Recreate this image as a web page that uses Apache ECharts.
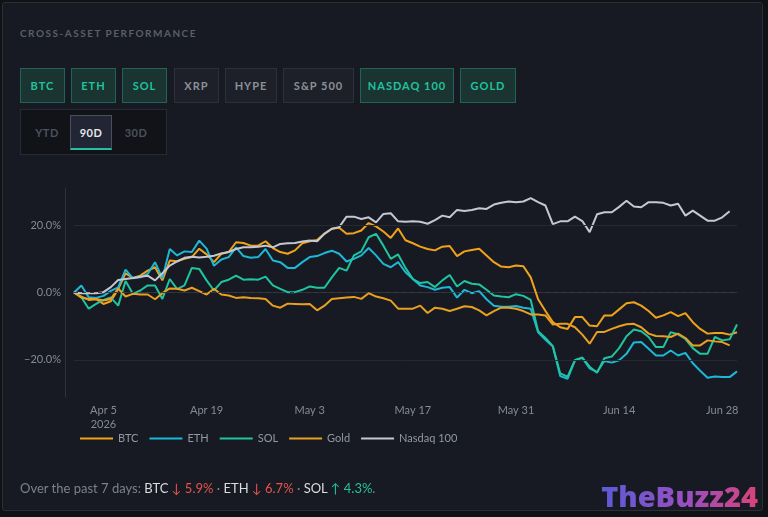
<!DOCTYPE html>
<html>
<head>
<meta charset="utf-8">
<script src="https://cdn.jsdelivr.net/npm/echarts@6/dist/echarts.min.js"></script>
<style>
html,body{margin:0;padding:0;background:#101216;width:768px;height:517px;overflow:hidden;font-family:Lato,"Noto Sans",sans-serif}
#card{position:absolute;left:2px;top:2px;width:759px;height:507px;background:#171a22;border:1px solid #2a2e37;border-radius:3px}
#main{position:absolute;left:0;top:0;width:768px;height:517px}
.title{position:absolute;left:20px;top:27px;font-size:10px;font-weight:700;letter-spacing:1.5px;color:#5a5f6a}
.btn{position:absolute;top:68px;height:35px;box-sizing:border-box;border:1px solid #2c3039;background:#1d2028;color:#8b909a;font-size:11px;font-weight:700;letter-spacing:1px;display:flex;align-items:center;justify-content:center}
.btn.on{background:#1a3432;border-color:#1f6457;color:#22c29e}
#range{position:absolute;left:20px;top:109px;width:147px;height:46px;box-sizing:border-box;background:#111318;border:1px solid #262a32}
.rb{position:absolute;top:5px;height:35px;width:42px;box-sizing:border-box;display:flex;align-items:center;justify-content:center;font-size:11px;font-weight:700;letter-spacing:.5px;color:#4c515b}
.rb.on{background:#222533;border:1px solid #4a4f5c;border-bottom:2px solid #22c29e;color:#e6e8ec}
#foot{position:absolute;left:20px;top:480px;font-size:13px;color:#7c818b}
#foot b{font-weight:400;color:#d9dce1}
#foot .dn{color:#e5534b}
#foot .up{color:#22c29e}
#mark{position:absolute;right:10px;top:476px;font-size:29px;font-weight:900;letter-spacing:0;background:linear-gradient(90deg,#5b5bd6,#9a4fc0 55%,#d8437a);-webkit-background-clip:text;background-clip:text;color:transparent;font-family:"Noto Sans",Lato,sans-serif}
</style>
</head>
<body>
<div id="card"></div>
<div class="title">CROSS-ASSET PERFORMANCE</div>
<div class="btn on" style="left:20px;width:45px">BTC</div>
<div class="btn on" style="left:71px;width:45px">ETH</div>
<div class="btn on" style="left:122px;width:45px">SOL</div>
<div class="btn" style="left:174px;width:45px">XRP</div>
<div class="btn" style="left:225px;width:52px">HYPE</div>
<div class="btn" style="left:283px;width:71px">S&amp;P 500</div>
<div class="btn on" style="left:360px;width:94px">NASDAQ 100</div>
<div class="btn on" style="left:460px;width:56px">GOLD</div>
<div id="range">
  <div class="rb" style="left:5px">YTD</div>
  <div class="rb on" style="left:49px">90D</div>
  <div class="rb" style="left:94px">30D</div>
</div>
<div id="main"></div>
<div id="foot">Over the past 7 days: <b>BTC</b> <span class="dn">&#8595; 5.9%</span> · <b>ETH</b> <span class="dn">&#8595; 6.7%</span> · <b>SOL</b> <span class="up">&#8593; 4.3%</span>.</div>
<div id="mark">TheBuzz24</div>
<script>
var dates = [
  'Apr 1','Apr 2','Apr 3','Apr 4','Apr 5','Apr 6','Apr 7','Apr 8','Apr 9','Apr 10',
  'Apr 11','Apr 12','Apr 13','Apr 14','Apr 15','Apr 16','Apr 17','Apr 18','Apr 19','Apr 20',
  'Apr 21','Apr 22','Apr 23','Apr 24','Apr 25','Apr 26','Apr 27','Apr 28','Apr 29','Apr 30',
  'May 1','May 2','May 3','May 4','May 5','May 6','May 7','May 8','May 9','May 10',
  'May 11','May 12','May 13','May 14','May 15','May 16','May 17','May 18','May 19','May 20',
  'May 21','May 22','May 23','May 24','May 25','May 26','May 27','May 28','May 29','May 30','May 31',
  'Jun 1','Jun 2','Jun 3','Jun 4','Jun 5','Jun 6','Jun 7','Jun 8','Jun 9','Jun 10',
  'Jun 11','Jun 12','Jun 13','Jun 14','Jun 15','Jun 16','Jun 17','Jun 18','Jun 19','Jun 20',
  'Jun 21','Jun 22','Jun 23','Jun 24','Jun 25','Jun 26','Jun 27','Jun 28','Jun 29','Jun 30'
];
var yTicks = [-20, 0, 20];

var btc = [0,-1.2,-2.2,-2.0,-3.4,-2.6,1.0,5.7,4.3,5.0,
  6.5,7.5,3.6,9.5,9.3,10.0,10.5,13.0,11.3,9.0,
  11.5,12.0,14.9,14.7,13.9,13.9,15.2,13.2,12.0,11.5,
  12.5,14.6,15.2,15.6,17.5,18.9,19.2,17.4,17.6,18.4,
  20.6,19.6,18.1,16.2,19.0,15.5,14.6,13.6,12.9,12.5,
  13.6,13.8,10.8,12.2,12.6,13.0,11.0,9.0,7.7,7.5,
  8.0,7.8,4.5,-2.0,-5.5,-8.8,-10.3,-10.8,-7.3,-7.3,
  -9.8,-10.0,-6.8,-6.8,-5.0,-3.2,-2.9,-3.9,-5.5,-7.5,
  -6.8,-5.8,-7.0,-6.1,-8.8,-10.8,-12.2,-12.0,-12.0,-12.5,-11.8];

var eth = [0,2.1,-1.4,-1.6,-1.0,0.5,1.5,6.8,4.2,4.5,
  5.5,9.0,4.2,12.9,11.0,12.2,12.0,15.4,13.0,7.9,
  9.8,10.5,13.4,10.8,10.3,10.5,12.9,9.5,9.0,7.3,
  7.3,9.0,10.5,10.8,11.7,12.4,11.5,9.2,10.0,11.0,
  13.2,11.0,8.5,7.5,9.0,6.0,4.0,2.1,1.6,0.8,
  1.4,1.6,-1.5,0.8,-0.2,0.4,-2.0,-3.9,-4.2,-4.2,
  -4.0,-4.5,-4.8,-11.8,-14.0,-16.0,-24.8,-25.6,-20.1,-19.4,
  -22.5,-23.6,-20.3,-20.8,-20.1,-18.2,-14.8,-14.7,-16.7,-18.7,
  -18.7,-17.2,-18.7,-17.9,-21.0,-23.2,-25.3,-24.9,-25.1,-25.1,-23.4];

var sol = [0,-1.4,-4.8,-3.4,-2.2,-1.5,-3.9,3.4,-0.4,0.6,
  2.1,2.1,-1.9,4.0,1.0,2.1,7.3,7.0,3.6,0.6,
  3.1,3.8,5.0,3.8,3.9,3.8,4.7,2.1,1.1,0.1,
  0.1,0.8,1.8,1.4,1.4,4.5,7.3,6.5,11.0,12.2,
  16.4,17.4,13.9,10.0,11.3,7.3,4.0,2.8,3.1,1.6,
  3.6,5.2,1.8,3.4,2.6,2.4,0.8,-0.9,-1.2,-1.4,
  -0.5,-1.0,-2.2,-11.5,-13.5,-15.9,-24.0,-25.0,-20.1,-19.3,
  -22.0,-23.8,-19.5,-19.0,-16.5,-13.0,-11.0,-11.5,-13.2,-16.2,
  -16.2,-11.8,-12.4,-13.8,-16.5,-18.2,-18.2,-13.2,-14.2,-13.9,-9.5];

var gold = [0,-1.5,-1.9,-1.9,-2.4,-1.9,1.2,-1.2,-0.4,-0.6,
  -0.6,-2.0,-0.2,1.2,1.1,0.6,1.4,0.4,-0.6,1.1,
  -0.6,-0.9,-1.6,-1.4,-1.6,-1.7,-1.9,-3.9,-4.5,-3.3,
  -3.4,-3.5,-3.4,-5.3,-3.9,-1.9,-1.7,-1.5,-1.3,-1.9,
  -0.2,-1.2,-1.7,-2.4,-4.8,-4.8,-4.8,-3.9,-6.1,-4.5,
  -4.8,-5.5,-4.8,-4.1,-4.3,-5.3,-6.8,-5.5,-4.5,-4.5,
  -4.8,-5.5,-6.5,-6.5,-6.8,-9.5,-9.3,-9.3,-10.3,-12.5,
  -15.2,-11.7,-11.7,-10.8,-10.0,-9.4,-9.3,-10.3,-12.2,-12.9,
  -13.0,-13.2,-12.2,-13.5,-15.7,-15.7,-14.2,-14.5,-14.7,-15.7,null];

var nasdaq = [0,-0.2,-0.2,-0.2,0.1,1.6,3.7,4.0,4.3,4.7,
  5.0,3.6,5.7,8.0,9.2,10.3,10.6,10.4,10.6,10.9,
  11.6,12.0,12.9,13.4,13.4,13.6,13.9,13.4,14.4,14.6,
  14.7,15.1,15.4,15.2,17.4,18.9,19.4,22.5,22.5,21.8,
  22.3,20.8,23.3,23.5,21.1,21.0,21.1,21.0,20.4,21.5,
  22.8,22.3,24.5,24.2,24.5,25.0,24.8,26.1,26.6,27.0,
  26.8,27.0,28.0,26.8,25.8,20.3,21.1,21.1,22.5,21.2,
  17.9,23.2,23.8,23.8,25.4,27.2,25.5,25.3,26.8,26.8,
  26.6,25.8,26.3,22.8,24.3,22.8,21.3,21.3,22.3,24.1,null];

var names = ['BTC', 'ETH', 'SOL', 'Gold', 'Nasdaq 100'];
var colors = ['#f0a31a', '#1cb8d6', '#1fc4a0', '#e9a020', '#c5c8d2'];
var values = [btc, eth, sol, gold, nasdaq];

var myChart = echarts.init(document.getElementById('main'));

var series = values.map(function (d, i) {
  return {
    name: names[i],
    type: 'line',
    data: d,
    showSymbol: false,
    symbol: 'none',
    lineStyle: { width: 2, color: colors[i] },
    itemStyle: { color: colors[i] },
    z: 3
  };
});
// grid lines at +-20 and the dashed zero line
series.unshift({
  name: 'grid',
  type: 'line',
  data: [],
  z: 1,
  silent: true,
  markLine: {
    silent: true,
    symbol: ['none', 'none'],
    label: { show: false },
    data: [
      { yAxis: 20, lineStyle: { color: '#262a33', type: 'solid', width: 1 } },
      { yAxis: -20, lineStyle: { color: '#262a33', type: 'solid', width: 1 } },
      { yAxis: 0, lineStyle: { color: '#353943', type: [4, 4], width: 1 } }
    ]
  }
});

var option = {
  backgroundColor: 'transparent',
  animation: false,
  textStyle: { fontFamily: 'Lato, "Noto Sans", sans-serif' },
  grid: { left: 74, right: 31, top: 188, bottom: 120 },
  legend: {
    data: names,
    left: 80,
    top: 433,
    padding: 0,
    icon: 'rect',
    itemWidth: 33,
    itemHeight: 2,
    itemGap: 11,
    textStyle: { color: '#9297a1', fontSize: 11 }
  },
  xAxis: {
    type: 'category',
    data: dates,
    boundaryGap: false,
    axisLine: { lineStyle: { color: '#2e323b' } },
    axisTick: { show: false },
    splitLine: { show: false },
    axisLabel: {
      color: '#858a94',
      fontSize: 11,
      margin: 6,
      lineHeight: 14,
      interval: function (idx) { return (idx - 4) % 14 === 0; },
      formatter: function (val, idx) { return idx === 4 ? val + '\n2026' : val; }
    }
  },
  yAxis: {
    type: 'value',
    min: -31,
    max: 31,
    offset: 9,
    axisLine: { show: true, lineStyle: { color: '#2e323b' } },
    axisTick: { show: false },
    splitLine: { show: false },
    axisLabel: {
      customValues: yTicks,
      color: '#858a94',
      fontSize: 11,
      margin: 4,
      formatter: function (v) { return (v < 0 ? '\u2212' + (-v).toFixed(1) : v.toFixed(1)) + '%'; }
    }
  },
  series: series
};

myChart.setOption(option);
</script>
</body>
</html>
